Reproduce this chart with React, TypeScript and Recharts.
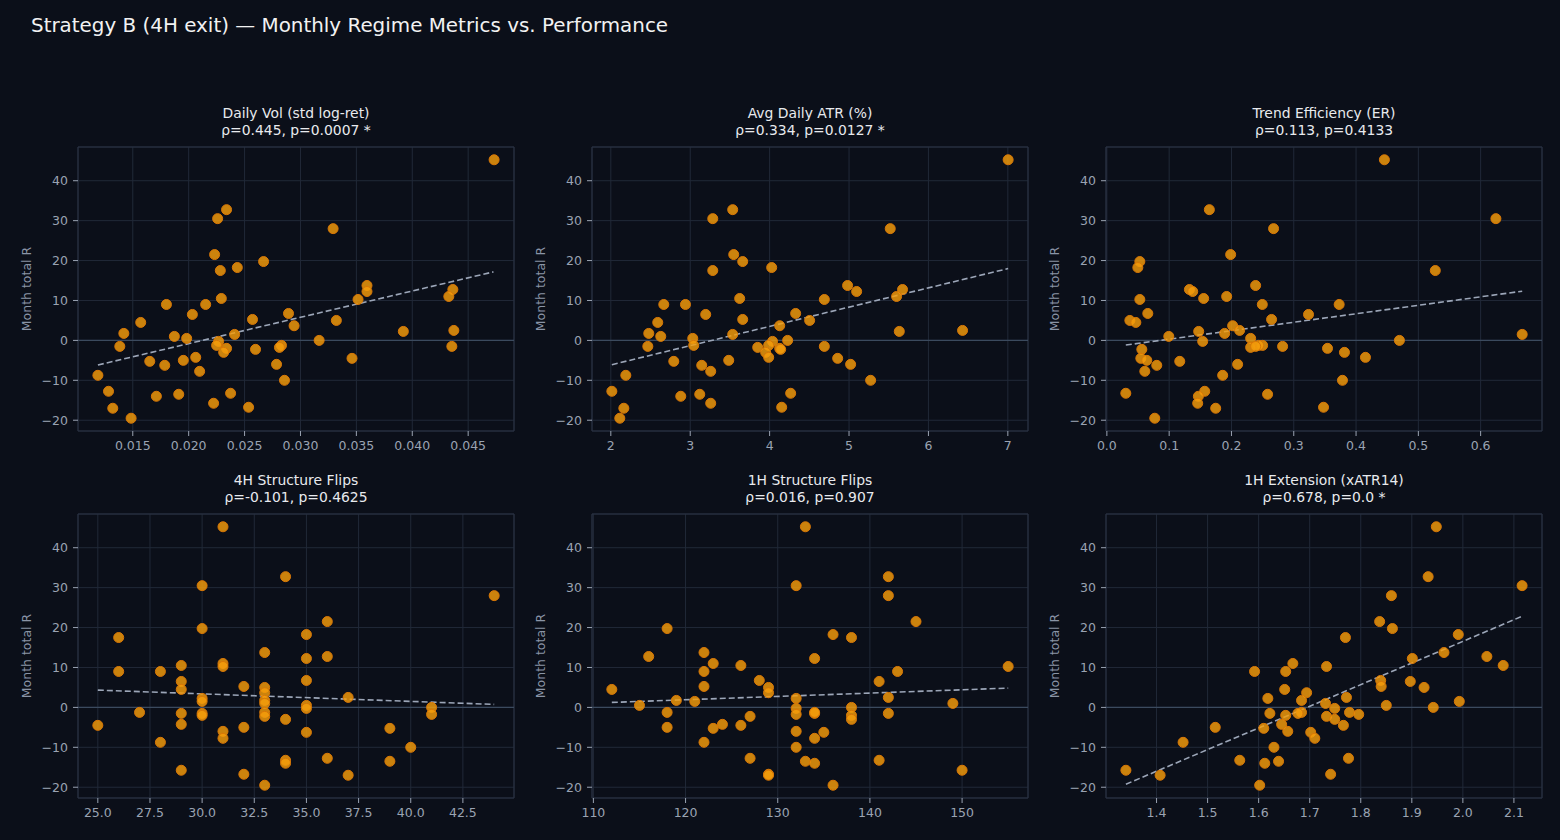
import React from 'react';
import {
  ScatterChart,
  Scatter,
  XAxis,
  YAxis,
  CartesianGrid,
  ReferenceLine,
  ReferenceArea
} from 'recharts';

// Month total R (shared y value for all six panels, one entry per month)
const monthTotalR = [
  45.25, 32.75, 30.5, 28.0, 21.5, 19.75, 18.25, 17.5, 13.75, 12.75, 12.25, 11.0, 10.5, 10.25,
  9.0, 9.0, 6.5, 6.75, 5.25, 5.0, 4.5, 3.67, 2.25, 2.5, 1.75, 1.5, 1.0, 0.5, 0, -0.25,
  -1.25, -1.5, -1.25, -1.75, -1.5, -2.0, -2.25, -3.0, -4.25, -4.5, -5.25, -5.0, -6.25, -6.0,
  -7.75, -10.0, -8.75, -13.25, -13.5, -12.75, -14.0, -15.75, -16.75, -17.0, -19.5
];

// Regime metrics, same month order as monthTotalR
const dailyVol = [
  0.04732, 0.02339, 0.02259, 0.03292, 0.02232, 0.0267, 0.02435, 0.02283, 0.03595, 0.04363,
  0.03595, 0.04327, 0.02292, 0.03515, 0.01801, 0.02152, 0.02033, 0.02893, 0.02571, 0.03321,
  0.01571, 0.02943, 0.0392, 0.04372, 0.0142, 0.02411, 0.01872, 0.01982, 0.03167, 0.02268,
  0.0225, 0.01384, 0.0283, 0.02812, 0.04354, 0.02339, 0.02598, 0.02313, 0.02063, 0.03461,
  0.01652, 0.01952, 0.01786, 0.02786, 0.02098, 0.02857, 0.01188, 0.02375, 0.01911, 0.01283,
  0.01711, 0.02223, 0.02536, 0.01321, 0.01485
];

const avgAtr = [
  7.004, 3.535, 3.284, 5.519, 3.548, 3.661, 4.026, 3.284, 4.982, 5.674, 5.096, 5.599, 3.623,
  4.689, 2.667, 2.94, 3.195, 4.328, 3.661, 4.504, 2.591, 4.127, 5.633, 6.43, 2.478, 3.535,
  2.629, 3.032, 4.227, 4.037, 3.044, 2.466, 3.988, 3.85, 4.689, 4.127, 4.139, 3.95, 3.988,
  4.857, 2.793, 3.485, 3.145, 5.02, 3.258, 5.272, 2.189, 4.265, 3.12, 2.013, 2.881, 3.258,
  4.152, 2.164, 2.113
];

const trendEff = [
  0.4455, 0.1645, 0.6245, 0.2676, 0.1987, 0.0529, 0.0497, 0.5272, 0.2388, 0.1325, 0.1378,
  0.1923, 0.1554, 0.0529, 0.3729, 0.2495, 0.3237, 0.0657, 0.2644, 0.0369, 0.0465, 0.2019,
  0.1474, 0.2131, 0.1891, 0.6667, 0.0994, 0.2308, 0.4696, 0.1538, 0.25, 0.2821, 0.2436,
  0.2308, 0.2388, 0.3542, 0.0561, 0.3814, 0.4151, 0.0545, 0.117, 0.0641, 0.0801, 0.2099,
  0.0609, 0.3782, 0.1859, 0.0304, 0.258, 0.1571, 0.1469, 0.1458, 0.3478, 0.1747, 0.0769
];

const flips4h = [
  31, 34, 30, 44, 36, 30, 35, 26, 33, 36, 35, 31, 29, 31, 26, 28, 29, 35, 32, 33,
  29, 33, 30, 37, 33, 30, 33, 35, 41, 35, 33, 30, 27, 41, 29, 30, 33, 34, 29, 25,
  39, 32, 35, 31, 31, 40, 28, 34, 39, 36, 34, 29, 32, 37, 33
];

const flips1h = [
  133, 142, 132, 142, 145, 118, 136, 138, 122, 116, 134, 123, 126, 155, 122, 143, 141, 128,
  122, 129, 112, 129, 132, 142, 119, 121, 149, 115, 138, 132, 118, 134, 134, 132, 142, 138,
  127, 138, 124, 126, 123, 118, 135, 132, 134, 132, 122, 141, 133, 127, 134, 150, 129, 129, 136
];

const ext1h = [
  1.948, 1.932, 2.116, 1.86, 1.837, 1.862, 1.991, 1.77, 1.963, 2.047, 1.901, 1.667, 2.079,
  1.733, 1.592, 1.653, 1.897, 1.839, 1.84, 1.924, 1.651, 1.694, 1.618, 1.772, 1.684, 1.993,
  1.731, 1.85, 1.942, 1.749, 1.684, 1.622, 1.778, 1.796, 1.677, 1.653, 1.733, 1.749, 1.645,
  1.766, 1.61, 1.515, 1.702, 1.657, 1.71, 1.63, 1.452, 1.563, 1.639, 1.776, 1.612, 1.34,
  1.741, 1.407, 1.602
];

// Fitted trend line end points (x start/end, y start/end)
const volTrend = { x: [0.01188, 0.04726], y: [-6.17, 17.17] };
const atrTrend = { x: [2.013, 7.004], y: [-6.08, 18.0] };
const erTrend = { x: [0.0304, 0.6667], y: [-1.17, 12.33] };
const flip4Trend = { x: [25, 44], y: [4.33, 0.75] };
const flip1Trend = { x: [112, 155], y: [1.25, 4.83] };
const extTrend = { x: [1.34, 2.116], y: [-19.25, 22.83] };

// Tick values
const yTicks = [-20, -10, 0, 10, 20, 30, 40];
const volTicks = [0.015, 0.02, 0.025, 0.03, 0.035, 0.04, 0.045];
const atrTicks = [2, 3, 4, 5, 6, 7];
const erTicks = [0, 0.1, 0.2, 0.3, 0.4, 0.5, 0.6];
const flip4Ticks = [25, 27.5, 30, 32.5, 35, 37.5, 40, 42.5];
const flip1Ticks = [110, 120, 130, 140, 150];
const extTicks = [1.4, 1.5, 1.6, 1.7, 1.8, 1.9, 2.0, 2.1];

const BG = '#0b0f19';
const GRID = '#212938';
const SPINE = '#2a3342';
const ZERO = '#3b4a5e';
const TICK_TEXT = '#9aa3b2';
const FONT = '"DejaVu Sans", sans-serif';

const AX_W = 436;
const AX_H = 284;
const Y_AXIS_W = 60;
const M_TOP = 10;
const X_AXIS_H = 30;
const Y_DOMAIN: [number, number] = [-22.7, 48.45];

const panels = [
  { title: 'Daily Vol (std log-ret)', stat: 'ρ=0.445, p=0.0007 *', xs: dailyVol, trend: volTrend,
    ticks: volTicks, domain: [0.0101, 0.0491], digits: 3, left: 78, top: 147 },
  { title: 'Avg Daily ATR (%)', stat: 'ρ=0.334, p=0.0127 *', xs: avgAtr, trend: atrTrend,
    ticks: atrTicks, domain: [1.763, 7.254], digits: 0, left: 592, top: 147 },
  { title: 'Trend Efficiency (ER)', stat: 'ρ=0.113, p=0.4133', xs: trendEff, trend: erTrend,
    ticks: erTicks, domain: [-0.0014, 0.6985], digits: 1, left: 1106, top: 147 },
  { title: '4H Structure Flips', stat: 'ρ=-0.101, p=0.4625', xs: flips4h, trend: flip4Trend,
    ticks: flip4Ticks, domain: [24.05, 44.95], digits: 1, left: 78, top: 514 },
  { title: '1H Structure Flips', stat: 'ρ=0.016, p=0.907', xs: flips1h, trend: flip1Trend,
    ticks: flip1Ticks, domain: [109.85, 157.15], digits: 0, left: 592, top: 514 },
  { title: '1H Extension (xATR14)', stat: 'ρ=0.678, p=0.0 *', xs: ext1h, trend: extTrend,
    ticks: extTicks, domain: [1.301, 2.155], digits: 1, left: 1106, top: 514 }
];

const fmtY = (v: number) => (v < 0 ? '\u2212' + Math.abs(v) : String(v));

const Dot = (props: any) => (
  <circle
    cx={props.cx}
    cy={props.cy}
    r={5}
    fill="#f59e0b"
    fillOpacity={0.82}
    stroke="#d97706"
    strokeWidth={1}
  />
);

const Panel = ({ p }: { p: (typeof panels)[number] }) => {
  const data = monthTotalR.map((r, i) => ({ x: p.xs[i], y: r }));
  const tickStyle = { fill: TICK_TEXT, fontSize: 12.5, fontFamily: FONT };
  return (
    <>
      <div
        style={{
          position: 'absolute',
          left: p.left,
          top: p.top - 42,
          width: AX_W,
          textAlign: 'center',
          color: '#e8eaee',
          fontFamily: FONT,
          fontSize: 13.9,
          lineHeight: '17px'
        }}
      >
        <div>{p.title}</div>
        <div>{p.stat}</div>
      </div>
      <div
        style={{
          position: 'absolute',
          left: p.left - 52,
          top: p.top + AX_H / 2,
          transform: 'translate(-50%, -50%) rotate(-90deg)',
          color: '#8a94a6',
          fontFamily: FONT,
          fontSize: 12.5,
          whiteSpace: 'nowrap'
        }}
      >
        Month total R
      </div>
      <div style={{ position: 'absolute', left: p.left - Y_AXIS_W, top: p.top - M_TOP }}>
        <ScatterChart
          width={Y_AXIS_W + AX_W + 10}
          height={M_TOP + AX_H + X_AXIS_H}
          margin={{ top: M_TOP, right: 10, bottom: 0, left: 0 }}
        >
          <CartesianGrid stroke={GRID} strokeWidth={1} />
          <XAxis
            type="number"
            dataKey="x"
            domain={p.domain}
            ticks={p.ticks}
            interval={0}
            allowDataOverflow
            height={X_AXIS_H}
            tickFormatter={(v: number) => v.toFixed(p.digits)}
            axisLine={false}
            tickLine={{ stroke: TICK_TEXT }}
            tickSize={5}
            tickMargin={5}
            tick={tickStyle}
          />
          <YAxis
            type="number"
            dataKey="y"
            domain={Y_DOMAIN}
            ticks={yTicks}
            interval={0}
            allowDataOverflow
            width={Y_AXIS_W}
            tickFormatter={fmtY}
            axisLine={false}
            tickLine={{ stroke: TICK_TEXT }}
            tickSize={5}
            tickMargin={5}
            tick={tickStyle}
          />
          <ReferenceLine y={0} stroke={ZERO} strokeWidth={1.2} />
          <ReferenceArea
            x1={p.domain[0]}
            x2={p.domain[1]}
            y1={Y_DOMAIN[0]}
            y2={Y_DOMAIN[1]}
            fill="none"
            stroke={SPINE}
            strokeWidth={1}
            ifOverflow="visible"
          />
          <Scatter data={data} isAnimationActive={false} shape={Dot} />
          <ReferenceLine
            segment={[
              { x: p.trend.x[0], y: p.trend.y[0] },
              { x: p.trend.x[1], y: p.trend.y[1] }
            ]}
            stroke="#9ca6b8"
            strokeWidth={1.6}
            strokeDasharray="6 3"
            ifOverflow="visible"
          />
        </ScatterChart>
      </div>
    </>
  );
};

export default function App() {
  return (
    <div
      style={{
        position: 'relative',
        width: 1560,
        height: 840,
        background: BG,
        overflow: 'hidden'
      }}
    >
      <style>{`body { margin: 0; background: ${BG}; }`}</style>
      <div
        style={{
          position: 'absolute',
          left: 31,
          top: 16,
          color: '#f2f2f2',
          fontFamily: FONT,
          fontSize: 19.9,
          lineHeight: '20px',
          whiteSpace: 'nowrap'
        }}
      >
        Strategy B (4H exit) — Monthly Regime Metrics vs. Performance
      </div>
      {panels.map((p) => (
        <Panel key={p.title} p={p} />
      ))}
    </div>
  );
}
